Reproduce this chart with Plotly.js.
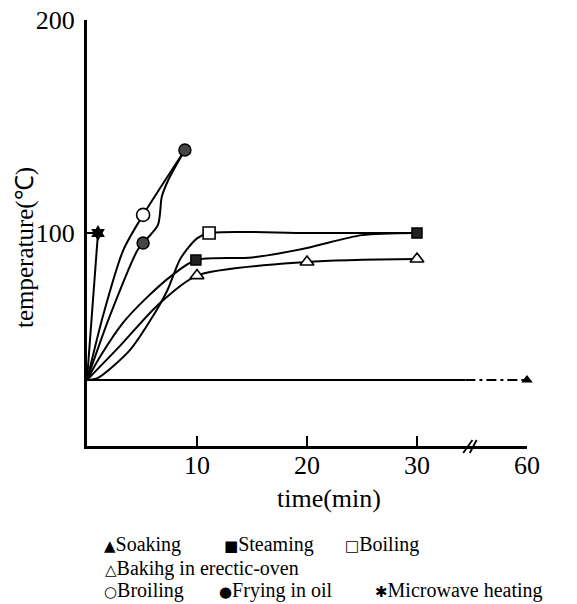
<!DOCTYPE html>
<html>
<head>
<meta charset="utf-8">
<script src="https://cdn.plot.ly/plotly-3.0.1.min.js"></script>
<style>html,body{margin:0;padding:0;background:#fff;}#chart{width:577px;height:604px;}</style>
</head>
<body>
<div id="chart"></div>
<script>
// ---- data (time in minutes, temperature in °C) ----
const seriesNames = ["Soaking", "Steaming", "Boiling", "Bakihg in erectic-oven", "Broiling", "Frying in oil", "Microwave heating"];
const legendSymbols = ["▲", "■", "□", "△", "○", "●", "✱"];

// curve points
const soakingTime = [0, 34.4, 60];
const soakingTemp = [31, 31, 31];
const soakingMarkTime = [60];
const soakingMarkTemp = [31];

const steamingTime = [0, 1.2, 3.3, 5.5, 7.7, 9.9, 15, 20, 25, 30];
const steamingTemp = [31, 42, 58, 70, 80, 87.3, 88.5, 93, 99, 100];
const steamingMarkTime = [9.9, 30];
const steamingMarkTemp = [87.3, 100];

const boilingTime = [0, 1, 3.9, 6, 7.3, 8.5, 10, 11.1, 20, 30];
const boilingTemp = [31, 32, 45, 61, 73, 88, 97.5, 100, 100, 100];
const boilingMarkTime = [11.1];
const boilingMarkTemp = [100];

const bakingTime = [0, 3, 6.4, 10, 20, 30];
const bakingTemp = [31, 47, 66, 80, 86.4, 87.8];
const bakingMarkTime = [10, 20, 30];
const bakingMarkTemp = [80, 86.4, 87.8];

const broilingTime = [0, 1.5, 3.3, 5.1, 8.9];
const broilingTemp = [31, 62, 92, 108.5, 139];
const broilingMarkTime = [5.1];
const broilingMarkTemp = [108.5];

const fryingTime = [0, 2, 4.6, 5.1, 6.45, 6.8, 7.4, 8.9];
const fryingTemp = [31, 60, 92, 95.3, 103.8, 117, 125, 139];
const fryingMarkTime = [5.1, 8.9];
const fryingMarkTemp = [95.3, 139];

const microTime = [0, 1];
const microTemp = [31, 100];
const microMarkTime = [1];
const microMarkTemp = [100];

const xTickTimes = [10, 20, 30, 60];
const xTickLabels = ["10", "20", "30", "60"];
const yTickVals = [100, 200];
const yTickLabels = ["100", "200"];

// broken time axis: linear to 35 min, then 35..60 compressed into 5 units
const BREAK = 35;
const pos = t => t <= BREAK ? t : BREAK + (t - BREAK) / 5;
const P = arr => arr.map(pos);

const FONT = "Liberation Serif";
const LW = 2;

function curve(x, y, extra) {
  return Object.assign({
    x: P(x), y: y, type: "scatter", mode: "lines",
    line: {color: "#000", width: LW, shape: "spline", smoothing: 0.75},
    hoverinfo: "skip", showlegend: false, cliponaxis: false
  }, extra || {});
}
function marks(x, y, marker, name) {
  return {
    x: P(x), y: y, type: "scatter", mode: "markers", name: name,
    marker: marker, showlegend: false, cliponaxis: false
  };
}

const traces = [
  // Soaking: solid, then dashed past the break
  curve(soakingTime.slice(0, 2), soakingTemp.slice(0, 2), {line: {color: "#000", width: LW}}),
  curve(soakingTime.slice(1), soakingTemp.slice(1), {line: {color: "#000", width: LW, dash: "10px,4px,3px,4px"}}),
  curve(steamingTime, steamingTemp),
  curve(boilingTime, boilingTemp),
  curve(bakingTime, bakingTemp),
  curve(broilingTime, broilingTemp),
  curve(fryingTime, fryingTemp),
  curve(microTime, microTemp),
  marks(soakingMarkTime, soakingMarkTemp, {symbol: "triangle-up", size: 10, color: "#000"}, seriesNames[0]),
  marks(steamingMarkTime, steamingMarkTemp, {symbol: "square", size: 10, color: "#222", line: {color: "#000", width: 1.5}}, seriesNames[1]),
  marks(boilingMarkTime, boilingMarkTemp, {symbol: "square", size: 12, color: "#fff", line: {color: "#000", width: 1.6}}, seriesNames[2]),
  marks(bakingMarkTime, bakingMarkTemp, {symbol: "triangle-up", size: 12, color: "#fff", line: {color: "#000", width: 1.6}}, seriesNames[3]),
  marks(broilingMarkTime, broilingMarkTemp, {symbol: "circle", size: 13, color: "#fff", line: {color: "#000", width: 1.6}}, seriesNames[4]),
  marks(fryingMarkTime, fryingMarkTemp, {symbol: "circle", size: 12, color: "#444", line: {color: "#000", width: 1.5}}, seriesNames[5]),
  marks(microMarkTime, microMarkTemp, {symbol: "hexagram", size: 12, color: "#000"}, seriesNames[6])
];

// plot-area geometry helpers for annotations (paper coordinates)
const W = 577, H = 604, ML = 87, MR = 50, MT = 20, MB = 158;
const PW = W - ML - MR, PH = H - MT - MB;
const px = x => (x - ML) / PW;
const py = y => (H - MB - y) / PH;

const legendRows = [
  [[0, 102], [1, 222], [2, 343]],
  [[3, 103]],
  [[4, 102], [5, 217], [6, 373]]
];
const legendRowY = [544, 568, 590];

const annotations = [
  {text: "time(min)", x: px(329), y: py(499), xref: "paper", yref: "paper",
   xanchor: "center", yanchor: "middle", showarrow: false, font: {family: FONT, size: 26, color: "#000"}},
  {text: "temperature(℃)", x: px(25), y: py(248), xref: "paper", yref: "paper", textangle: -90,
   xanchor: "center", yanchor: "middle", showarrow: false, font: {family: FONT, size: 25, color: "#000"}}
];
legendRows.forEach((row, r) => {
  row.forEach(([i, x]) => {
    annotations.push({
      text: '<span style="font-family:DejaVu Sans;font-size:15px">' + legendSymbols[i] + '</span>' + seriesNames[i],
      x: px(x), y: py(legendRowY[r]), xref: "paper", yref: "paper",
      xanchor: "left", yanchor: "middle", showarrow: false,
      font: {family: FONT, size: 20, color: "#000"}
    });
  });
});

// axis break mark "//"
const bx = t => pos(t) / 40;
const shapes = [
  {type: "line", xref: "paper", yref: "paper", x0: bx(34.2), y0: -7 / PH, x1: bx(35.2), y1: 6 / PH, line: {color: "#000", width: 1.8}},
  {type: "line", xref: "paper", yref: "paper", x0: bx(34.8), y0: -7 / PH, x1: bx(35.1) + 0.01, y1: 6 / PH, line: {color: "#000", width: 1.8}}
];

const layout = {
  width: W, height: H,
  margin: {l: ML, r: MR, t: MT, b: MB},
  paper_bgcolor: "#fff", plot_bgcolor: "#fff",
  showlegend: false,
  font: {family: FONT, color: "#000"},
  xaxis: {
    range: [0, 40], showgrid: false, zeroline: false,
    showline: true, linecolor: "#000", linewidth: 3,
    ticks: "inside", ticklen: 10, tickwidth: 2, tickcolor: "#000",
    tickvals: P(xTickTimes), ticktext: xTickLabels,
    tickfont: {family: FONT, size: 26, color: "#000"},
    ticklabelstandoff: -6,
    title: {text: ""}
  },
  yaxis: {
    range: [0, 200], showgrid: false, zeroline: false,
    showline: true, linecolor: "#000", linewidth: 3,
    ticks: "inside", ticklen: 10, tickwidth: 2, tickcolor: "#000",
    tickvals: yTickVals, ticktext: yTickLabels,
    tickfont: {family: FONT, size: 26, color: "#000"},
    ticklabelstandoff: 4,
    title: {text: ""}
  },
  annotations: annotations,
  shapes: shapes
};

Plotly.newPlot("chart", traces, layout, {displayModeBar: false, staticPlot: true});
</script>
</body>
</html>
